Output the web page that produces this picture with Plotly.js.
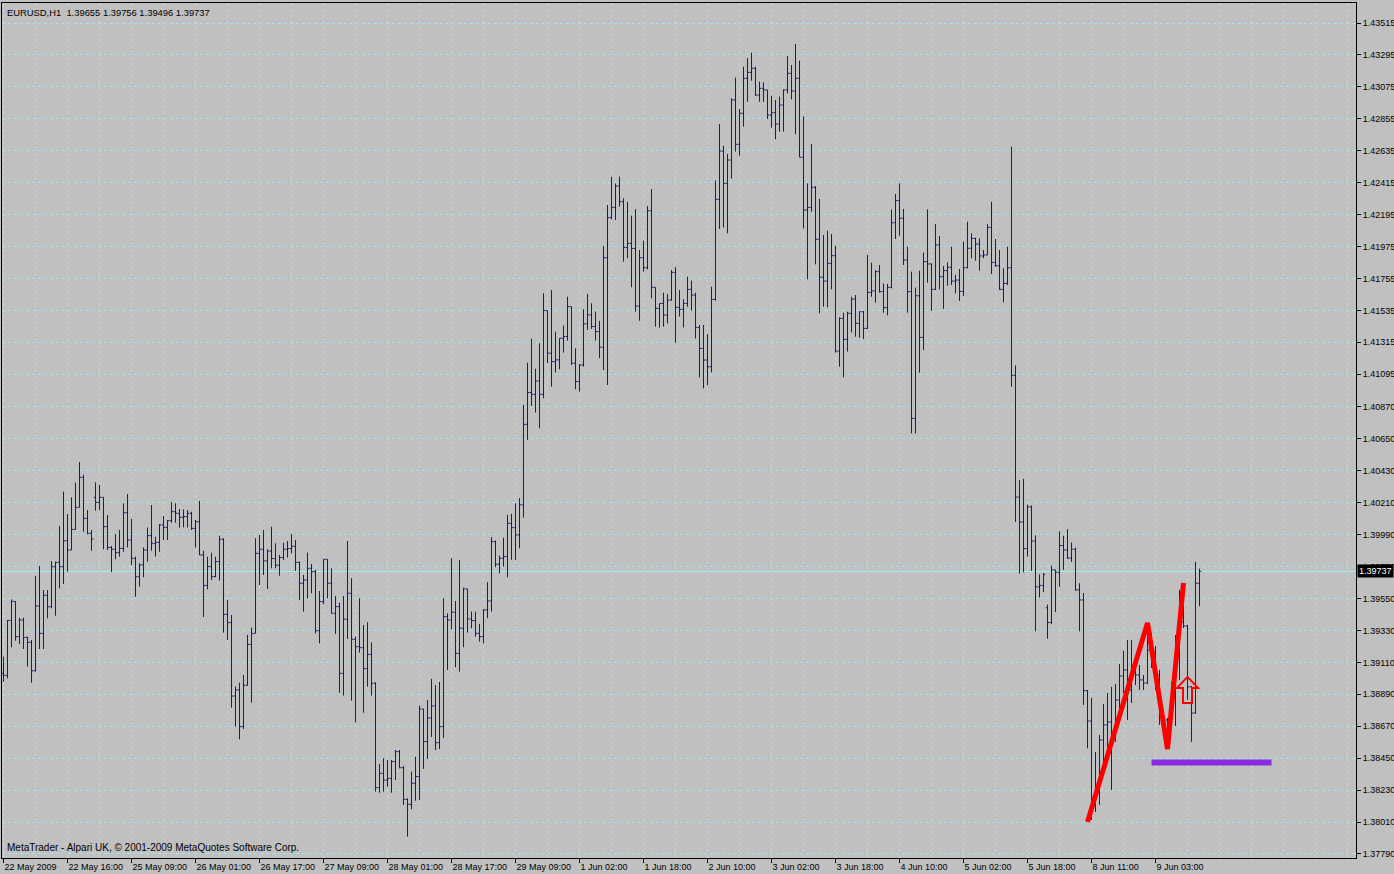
<!DOCTYPE html>
<html><head><meta charset="utf-8">
<script src="https://cdn.plot.ly/plotly-3.0.1.min.js"></script>
<style>html,body{margin:0;padding:0;background:#c0c0c0;overflow:hidden}#chart{width:1394px;height:874px}</style>
</head><body><div id="chart"></div>
<script>
const symbolName = 'EURUSD,H1';
const footerText = 'MetaTrader - Alpari UK, \u00a9 2001-2009 MetaQuotes Software Corp.';
const xTickLabels = ['22 May 2009','22 May 16:00','25 May 09:00','26 May 01:00','26 May 17:00','27 May 09:00','28 May 01:00','28 May 17:00','29 May 09:00','1 Jun 02:00','1 Jun 18:00','2 Jun 10:00','3 Jun 02:00','3 Jun 18:00','4 Jun 10:00','5 Jun 02:00','5 Jun 18:00','8 Jun 11:00','9 Jun 03:00'];
const yTickLabels = ['1.43515','1.43295','1.43075','1.42855','1.42635','1.42415','1.42195','1.41975','1.41755','1.41535','1.41315','1.41095','1.40870','1.40650','1.40430','1.40210','1.39990','1.39770','1.39550','1.39330','1.39110','1.38890','1.38670','1.38450','1.38230','1.38010','1.37790'];

const open = [
1.39034,1.39020,1.39399,1.39530,1.39287,1.39402,1.39282,1.39248,1.39052,1.39498,
1.39310,1.39572,1.39493,1.39769,1.39799,1.39769,1.39948,1.39884,1.40026,1.40178,
1.40385,1.40102,1.39999,1.40247,1.40212,1.40247,1.40045,1.39902,1.39889,1.39866,
1.39895,1.40141,1.39953,1.39827,1.39700,1.39781,1.39884,1.39983,1.39930,1.39937,
1.40056,1.40040,1.40086,1.40148,1.40137,1.40109,1.40114,1.40137,1.40033,1.40079,
1.39850,1.39640,1.39770,1.39701,1.39804,1.39958,1.39441,1.39384,1.38878,1.38920,
1.38667,1.38952,1.39234,1.39310,1.39861,1.39889,1.39809,1.39877,1.39825,1.39779,
1.39832,1.39889,1.39894,1.39910,1.39799,1.39655,1.39678,1.39758,1.39735,1.39328,
1.39528,1.39820,1.39655,1.39448,1.39494,1.39034,1.39407,1.39586,1.39269,1.39218,
1.39211,1.39067,1.39165,1.38966,1.38247,1.38345,1.38299,1.38311,1.38426,1.38495,
1.38384,1.38166,1.38132,1.38277,1.38323,1.38789,1.38564,1.38727,1.38810,1.38557,
1.38667,1.39425,1.39402,1.39455,1.39172,1.39345,1.39616,1.39409,1.39398,1.39310,
1.39287,1.39471,1.39533,1.39942,1.39786,1.39827,1.39839,1.40068,1.40038,1.39988,
1.40195,1.40750,1.40969,1.40957,1.41049,1.40957,1.41534,1.41240,1.41182,1.41194,
1.41343,1.41355,1.41561,1.41171,1.41045,1.41159,1.41442,1.41504,1.41424,1.41389,
1.41281,1.41898,1.42174,1.42245,1.42392,1.42284,1.41969,1.41997,1.41962,1.41565,
1.41898,1.41829,1.42222,1.41694,1.41549,1.41583,1.41503,1.41606,1.41797,1.41556,
1.41542,1.41583,1.41680,1.41641,1.41418,1.41273,1.41193,1.41147,1.41611,1.42300,
1.42633,1.42410,1.42571,1.42985,1.42679,1.42893,1.43134,1.43175,1.43203,1.43019,
1.43065,1.43054,1.42881,1.42897,1.42819,1.42950,1.43054,1.43168,1.43047,1.43134,
1.42590,1.42227,1.42245,1.42383,1.42025,1.41763,1.41737,1.41859,1.41912,1.41255,
1.41480,1.41335,1.41515,1.41613,1.41446,1.41526,1.41411,1.41659,1.41669,1.41802,
1.41664,1.41554,1.41694,1.42139,1.42291,1.42170,1.41882,1.41664,1.40791,1.41636,
1.41349,1.41871,1.41855,1.41680,1.41986,1.41767,1.41809,1.41832,1.41737,1.41744,
1.41666,1.41829,1.41963,1.42031,1.41992,1.41910,1.41917,1.42107,1.41866,1.41843,
1.41680,1.41721,1.41829,1.41088,1.40249,1.40077,1.39894,1.40181,1.39946,1.39630,
1.39640,1.39486,1.39385,1.39747,1.39731,1.39915,1.39884,1.39829,1.39890,1.39609,
1.39540,1.38915,1.38706,1.38128,1.38231,1.38575,1.38679,1.38699,1.38575,1.38851,
1.39016,1.39058,1.38920,1.39071,1.39023,1.38989,1.38968,1.39195,1.39182,1.39023,
1.38748,1.38713,1.38679,1.38934,1.39189,1.39388,1.39361,1.38941,1.38761,1.39655];
const high = [
1.39149,1.39402,1.39544,1.39530,1.39418,1.39418,1.39287,1.39264,1.39707,1.39774,
1.39608,1.39608,1.39808,1.39804,1.40049,1.40286,1.40132,1.40247,1.40348,1.40490,
1.40403,1.40160,1.40022,1.40350,1.40334,1.40247,1.40125,1.39912,1.39994,1.40022,
1.40206,1.40270,1.40098,1.39838,1.39792,1.39902,1.40040,1.40194,1.39976,1.40063,
1.40118,1.40091,1.40215,1.40206,1.40167,1.40164,1.40160,1.40148,1.40091,1.40222,
1.39878,1.39838,1.39866,1.39838,1.39983,1.39965,1.39540,1.39436,1.38943,1.38970,
1.39023,1.39299,1.39349,1.39965,1.39988,1.40022,1.39889,1.40045,1.39930,1.39850,
1.39935,1.39946,1.39995,1.39953,1.39804,1.39712,1.39866,1.39788,1.39747,1.39602,
1.39820,1.39820,1.39758,1.39567,1.39521,1.39567,1.39946,1.39689,1.39287,1.39551,
1.39368,1.39386,1.39248,1.38972,1.38410,1.38449,1.38437,1.38437,1.38506,1.38506,
1.38396,1.38173,1.38357,1.38460,1.38812,1.38789,1.38851,1.38996,1.38954,1.38975,
1.39552,1.39448,1.39827,1.39533,1.39816,1.39625,1.39616,1.39460,1.39460,1.39375,
1.39476,1.39662,1.39972,1.39949,1.39845,1.39969,1.40126,1.40133,1.40206,1.40241,
1.40884,1.41175,1.41339,1.41134,1.41309,1.41653,1.41534,1.41676,1.41389,1.41343,
1.41430,1.41630,1.41561,1.41274,1.41164,1.41543,1.41649,1.41584,1.41527,1.41463,
1.41979,1.42261,1.42456,1.42410,1.42456,1.42307,1.42284,1.42188,1.42233,1.41951,
1.42015,1.42254,1.42371,1.41694,1.41583,1.41657,1.41648,1.41813,1.41832,1.41675,
1.41611,1.41767,1.41740,1.41657,1.41434,1.41434,1.41372,1.41698,1.42429,1.42819,
1.42670,1.42613,1.42996,1.43139,1.42923,1.43214,1.43272,1.43311,1.43214,1.43111,
1.43106,1.43054,1.43014,1.42985,1.43008,1.43058,1.43288,1.43226,1.43371,1.43256,
1.42870,1.42410,1.42682,1.42392,1.42303,1.42054,1.42084,1.42061,1.41981,1.41487,
1.41519,1.41526,1.41629,1.41641,1.41526,1.41530,1.41917,1.41864,1.41813,1.41848,
1.41721,1.41717,1.42231,1.42337,1.42410,1.42234,1.41974,1.41802,1.41692,1.41809,
1.41933,1.42231,1.41859,1.42130,1.42048,1.41841,1.41866,1.41974,1.41781,1.41820,
1.42009,1.42146,1.42066,1.42036,1.42031,1.41951,1.42130,1.42284,1.42027,1.41951,
1.41825,1.41974,1.42662,1.41155,1.40365,1.40374,1.40197,1.40191,1.39986,1.39716,
1.39725,1.39508,1.39777,1.39747,1.40013,1.39982,1.40028,1.39936,1.39900,1.39655,
1.39588,1.38920,1.38865,1.38493,1.38610,1.38823,1.38899,1.38941,1.38961,1.39099,
1.39189,1.39264,1.39264,1.39127,1.39092,1.39023,1.39382,1.39313,1.39223,1.39058,
1.38768,1.38727,1.38975,1.39299,1.39609,1.39657,1.39368,1.38947,1.39802,1.39756];
const low = [
1.38977,1.39000,1.39213,1.39259,1.39236,1.39202,1.39080,1.38970,1.39046,1.39202,
1.39202,1.39413,1.39482,1.39431,1.39620,1.39650,1.39735,1.39884,1.40026,1.40178,
1.40010,1.39992,1.39879,1.40155,1.40160,1.39889,1.39884,1.39732,1.39820,1.39838,
1.39872,1.39902,1.39781,1.39562,1.39631,1.39696,1.39804,1.39879,1.39838,1.39872,
1.39953,1.39953,1.40072,1.40072,1.40038,1.40040,1.40040,1.40022,1.39902,1.39850,
1.39423,1.39613,1.39678,1.39696,1.39673,1.39315,1.39264,1.38798,1.38667,1.38580,
1.38651,1.38950,1.38832,1.39310,1.39643,1.39712,1.39616,1.39758,1.39758,1.39707,
1.39815,1.39832,1.39861,1.39740,1.39540,1.39459,1.39551,1.39586,1.39310,1.39241,
1.39510,1.39551,1.39448,1.39306,1.38901,1.38881,1.39271,1.38846,1.38697,1.39177,
1.38763,1.38943,1.38881,1.38219,1.38212,1.38219,1.38253,1.38212,1.38299,1.38380,
1.38127,1.37909,1.38098,1.38157,1.38162,1.38376,1.38444,1.38596,1.38506,1.38513,
1.38589,1.39058,1.39338,1.39076,1.39046,1.39214,1.39315,1.39345,1.39287,1.39253,
1.39241,1.39414,1.39460,1.39765,1.39724,1.39770,1.39696,1.39816,1.39816,1.39896,
1.40107,1.40643,1.40877,1.40831,1.40723,1.40930,1.41171,1.41010,1.41107,1.41129,
1.41244,1.41327,1.41159,1.40992,1.40976,1.41148,1.41401,1.41407,1.41327,1.41205,
1.41124,1.41021,1.42162,1.42158,1.42250,1.41871,1.41894,1.41694,1.41526,1.41464,
1.41802,1.41818,1.41618,1.41423,1.41416,1.41423,1.41446,1.41602,1.41312,1.41492,
1.41418,1.41560,1.41533,1.41342,1.41074,1.40998,1.41021,1.41108,1.41602,1.42096,
1.42107,1.42066,1.42443,1.42629,1.42601,1.42801,1.42973,1.43118,1.43012,1.42973,
1.42973,1.42854,1.42794,1.42714,1.42766,1.42766,1.43031,1.42989,1.42748,1.42590,
1.42100,1.41749,1.42215,1.41852,1.41515,1.41561,1.41556,1.41680,1.41244,1.41147,
1.41074,1.41251,1.41384,1.41354,1.41347,1.41338,1.41407,1.41629,1.41588,1.41657,
1.41519,1.41501,1.41687,1.42027,1.42050,1.41848,1.41519,1.40688,1.40688,1.41106,
1.41262,1.41726,1.41531,1.41676,1.41680,1.41545,1.41705,1.41710,1.41652,1.41600,
1.41634,1.41825,1.41894,1.41878,1.41809,1.41894,1.41917,1.41786,1.41836,1.41675,
1.41590,1.41710,1.41008,1.40077,1.39722,1.39731,1.39838,1.39740,1.39324,1.39557,
1.39594,1.39272,1.39373,1.39456,1.39630,1.39747,1.39823,1.39802,1.39603,1.39324,
1.38817,1.38518,1.38024,1.38079,1.38128,1.38389,1.38520,1.38231,1.38562,1.38748,
1.38899,1.38713,1.38830,1.38954,1.38920,1.38920,1.38961,1.39071,1.38920,1.38679,
1.38631,1.38513,1.38658,1.38672,1.38989,1.39347,1.38851,1.38562,1.38755,1.39496];
const close = [
1.39020,1.39399,1.39530,1.39287,1.39402,1.39282,1.39248,1.39052,1.39498,1.39310,
1.39572,1.39493,1.39769,1.39799,1.39769,1.39948,1.39884,1.40026,1.40178,1.40385,
1.40102,1.39999,1.39960,1.40212,1.40247,1.40045,1.39902,1.39889,1.39866,1.39895,
1.40141,1.39953,1.39827,1.39700,1.39781,1.39884,1.39983,1.39930,1.39937,1.40056,
1.40040,1.40086,1.40148,1.40137,1.40109,1.40114,1.40137,1.40033,1.40079,1.39850,
1.39640,1.39770,1.39701,1.39804,1.39958,1.39441,1.39384,1.38878,1.38920,1.38667,
1.38952,1.39234,1.39310,1.39861,1.39889,1.39809,1.39877,1.39825,1.39779,1.39832,
1.39889,1.39894,1.39910,1.39799,1.39655,1.39678,1.39758,1.39735,1.39328,1.39528,
1.39820,1.39655,1.39448,1.39494,1.39034,1.39407,1.39586,1.39269,1.39218,1.39211,
1.39067,1.39165,1.38966,1.38247,1.38345,1.38299,1.38311,1.38426,1.38495,1.38384,
1.38166,1.38132,1.38277,1.38323,1.38789,1.38564,1.38727,1.38810,1.38557,1.38667,
1.39425,1.39402,1.39455,1.39172,1.39345,1.39616,1.39409,1.39398,1.39310,1.39287,
1.39471,1.39533,1.39942,1.39786,1.39827,1.39839,1.40068,1.40038,1.39988,1.40195,
1.40750,1.40969,1.40957,1.41049,1.40957,1.41534,1.41240,1.41182,1.41194,1.41343,
1.41355,1.41561,1.41171,1.41045,1.41159,1.41442,1.41504,1.41424,1.41389,1.41281,
1.41898,1.42174,1.42245,1.42392,1.42284,1.41969,1.41997,1.41962,1.41565,1.41898,
1.41829,1.42222,1.41694,1.41549,1.41583,1.41503,1.41606,1.41797,1.41556,1.41542,
1.41583,1.41680,1.41641,1.41418,1.41273,1.41193,1.41147,1.41611,1.42300,1.42633,
1.42410,1.42571,1.42985,1.42679,1.42893,1.43134,1.43175,1.43203,1.43019,1.43065,
1.43054,1.42881,1.42897,1.42819,1.42950,1.43054,1.43168,1.43047,1.43134,1.42590,
1.42227,1.42245,1.42383,1.42025,1.41763,1.41737,1.41859,1.41912,1.41255,1.41480,
1.41335,1.41515,1.41613,1.41446,1.41526,1.41411,1.41659,1.41669,1.41802,1.41664,
1.41554,1.41694,1.42139,1.42291,1.42170,1.41882,1.41664,1.40791,1.41636,1.41349,
1.41871,1.41855,1.41680,1.41986,1.41767,1.41809,1.41832,1.41737,1.41744,1.41666,
1.41829,1.41963,1.42031,1.41992,1.41910,1.41917,1.42107,1.41866,1.41843,1.41680,
1.41721,1.41829,1.41088,1.40249,1.40077,1.39894,1.40181,1.39946,1.39630,1.39640,
1.39716,1.39385,1.39747,1.39731,1.39915,1.39884,1.39829,1.39890,1.39609,1.39540,
1.38915,1.38706,1.38128,1.38231,1.38575,1.38679,1.38699,1.38575,1.38851,1.39016,
1.39058,1.38920,1.39071,1.39023,1.38989,1.38968,1.39195,1.39182,1.39023,1.38748,
1.38713,1.38679,1.38934,1.39189,1.39388,1.39361,1.38941,1.38761,1.39655,1.39737];

const zigzagBars = [271, 286, 291, 295];
const zigzagPrices = [1.38010, 1.39382, 1.38513, 1.39657];
const levelBars = [287, 317];
const levelPrices = [1.38420, 1.38420];
const signalBars = [296];
const signalPrices = [1.38920];

const barIndex = open.map((_, i) => i);
const last = open.length - 1;
const barsPerLabel = 16, barsPerGrid = 8;
const majorVals = xTickLabels.map((_, k) => k * barsPerLabel);
const minorVals = [];
for (let v = barsPerGrid; v <= 336; v += barsPerLabel) minorVals.push(v);
for (let v = majorVals[majorVals.length-1] + barsPerLabel; v <= 336; v += barsPerLabel) minorVals.push(v);

const gridColor = '#a6e2e6';
const barColor = '#1b1b66';
const fam = 'Liberation Sans, Arial, sans-serif';
const font = {family: fam, size: 9, color: '#000'};

const traces = [
  {type: 'ohlc', x: barIndex, open: open, high: high, low: low, close: close,
   increasing: {line: {color: barColor, width: 1}}, decreasing: {line: {color: barColor, width: 1}},
   tickwidth: 0.45, hoverinfo: 'skip'},
  {type: 'scatter', mode: 'lines', x: zigzagBars, y: zigzagPrices,
   line: {color: '#ff0000', width: 5}, hoverinfo: 'skip'},
  {type: 'scatter', mode: 'lines', x: levelBars, y: levelPrices,
   line: {color: '#8a2be2', width: 6}, hoverinfo: 'skip'}
];

// block up-arrow glyph (size in screen pixels), anchored on each signal point
const arrowGlyph = 'M0,13 L10.5,2 L4.5,2 L4.5,-13 L-4.5,-13 L-4.5,2 L-10.5,2 Z';
const signalShapes = signalBars.map((b, k) => ({
  type: 'path', xref: 'x', yref: 'y', xsizemode: 'pixel', ysizemode: 'pixel',
  xanchor: b, yanchor: signalPrices[k], path: arrowGlyph,
  line: {color: '#ff0000', width: 2}, fillcolor: 'rgba(0,0,0,0)', layer: 'above'
}));

const fmt = v => v.toFixed(5);
const layout = {
  width: 1394, height: 874,
  paper_bgcolor: '#c0c0c0', plot_bgcolor: '#c0c0c0',
  margin: {l: 2, r: 38, t: 3, b: 16, pad: 0},
  showlegend: false, hovermode: false,
  xaxis: {
    range: [-0.375, 338.125], autorange: false, rangeslider: {visible: false},
    tickmode: 'array', tickvals: majorVals, ticktext: xTickLabels,
    ticklabelposition: 'outside right', ticks: 'outside', ticklen: 4, tickcolor: '#000',
    tickfont: font, showgrid: true, gridcolor: gridColor, griddash: '3px,3px', gridwidth: 1,
    minor: {tickmode: 'array', tickvals: minorVals, showgrid: true, gridcolor: gridColor, griddash: '3px,3px', ticks: ''},
    showline: true, mirror: true, linecolor: '#000', linewidth: 1, zeroline: false, automargin: false
  },
  yaxis: {
    side: 'right', range: [1.37762, 1.43653], autorange: false,
    tickmode: 'array', tickvals: yTickLabels.map(parseFloat), ticktext: yTickLabels,
    ticks: 'outside', ticklen: 4, tickcolor: '#000', tickfont: font,
    showgrid: true, gridcolor: gridColor, griddash: '3px,3px', gridwidth: 1,
    showline: true, mirror: true, linecolor: '#000', linewidth: 1, zeroline: false, automargin: false
  },
  shapes: [
    {type: 'line', xref: 'paper', x0: 0, x1: 1, yref: 'y', y0: close[last], y1: close[last],
     line: {color: '#a8f0f0', width: 1}, layer: 'below'}
  ].concat(signalShapes),
  annotations: [
    {xref: 'paper', yref: 'paper', x: 0, y: 1, xanchor: 'left', yanchor: 'top', xshift: 3, yshift: -2,
     text: symbolName + '\u00a0\u00a0' + [open[last], high[last], low[last], close[last]].map(fmt).join(' '),
     showarrow: false, font: {family: fam, size: 9.4, color: '#000'}},
    {xref: 'paper', yref: 'paper', x: 0, y: 0, xanchor: 'left', yanchor: 'bottom', xshift: 3, yshift: 3,
     text: footerText, showarrow: false, font: {family: fam, size: 10, color: '#000'}},
    {xref: 'paper', yref: 'y', x: 1, y: close[last], xanchor: 'left', yanchor: 'middle', xshift: 1,
     text: fmt(close[last]), showarrow: false, bgcolor: '#000', borderpad: 1,
     font: {family: fam, size: 9, color: '#fff'}}
  ]
};
Plotly.newPlot('chart', traces, layout, {staticPlot: true, displayModeBar: false});
</script>
</body></html>
